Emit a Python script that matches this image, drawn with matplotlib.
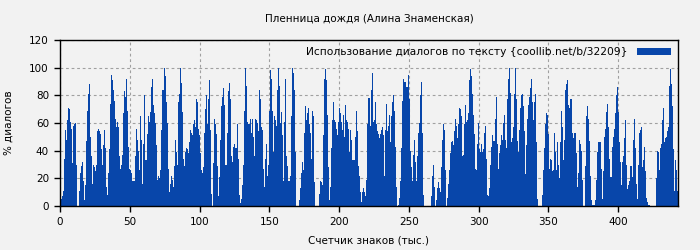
import numpy as np
import matplotlib
matplotlib.use("Agg")
import matplotlib.pyplot as plt

# dialogue share (%) per text chunk left to right
usage_part1 = [10, 5, 7, 11, 34, 55, 48, 62, 71, 70, 61, 56, 31, 58, 59, 60, 30, 0, 0, 11,
               24, 29, 32, 18, 4, 15, 47, 69, 81, 88, 50, 36, 16, 30, 28, 25, 30, 54, 56, 54,
               52, 41, 30, 44, 55, 42, 14, 8, 24, 41, 74, 95, 91, 84, 76, 63, 57, 61, 57, 36,
               27, 30, 37, 67, 83, 79, 92, 69, 43, 27, 26, 24, 18, 18, 18, 36, 56, 48, 40, 26,
               65, 48, 16, 45, 80, 33, 33, 52, 65, 61, 68, 86, 92, 73, 67, 60, 44, 19, 22, 20,
               26]
usage_part2 = [55, 84, 100, 94, 75, 60, 27, 10, 16, 22, 19, 14, 29, 48, 39, 30, 75, 81, 100, 89,
               68, 34, 29, 39, 42, 41, 38, 46, 55, 53, 51, 59, 62, 57, 77, 75, 56, 51, 38, 26,
               24, 28, 53, 70, 80, 59, 77, 91, 55, 9, 0, 31, 63, 59, 52, 29, 7, 21, 48, 72,
               79, 85, 73, 30, 30, 53, 83, 89, 77, 36, 32, 43, 45, 42, 42, 59, 34, 8, 2, 5,
               15, 30, 69, 100, 87, 61, 59, 59, 63, 53, 63, 50, 36, 63, 62, 60, 54, 84, 77, 57,
               55]
usage_part3 = [27, 14, 34, 45, 22, 30, 69, 98, 92, 69, 39, 65, 62, 58, 84, 100, 87, 60, 68, 51,
               18, 61, 92, 36, 29, 18, 18, 22, 65, 100, 96, 84, 39, 0, 0, 0, 4, 13, 24, 32,
               26, 53, 72, 62, 67, 71, 59, 53, 34, 69, 65, 17, 0, 0, 0, 0, 9, 18, 17, 15,
               51, 92, 99, 91, 66, 28, 4, 14, 42, 62, 75, 62, 61, 56, 51, 61, 71, 67, 61, 55,
               66, 50, 73, 62, 61, 56, 39, 55, 48, 33, 33, 33, 50, 69, 54, 29, 22, 10, 3, 10,
               13, 10]
usage_part4 = [7, 19, 59, 78, 58, 84, 96, 61, 62, 75, 59, 54, 52, 49, 52, 55, 57, 51, 22, 55,
               74, 54, 58, 66, 46, 65, 75, 80, 69, 43, 14, 0, 1, 6, 18, 42, 76, 92, 90, 90,
               86, 86, 95, 77, 40, 28, 18, 37, 48, 32, 18, 36, 53, 60, 80, 90, 53, 8, 0, 0,
               0, 0, 0, 0, 0, 7, 22, 30, 14, 0, 4, 13, 17, 13, 10, 28, 48, 59, 55, 26,
               0, 6, 16, 26, 38, 46, 47, 44, 54, 63, 58, 49, 59, 71, 70, 65, 36, 37, 59, 73,
               61, 62]
usage_part5 = [67, 91, 99, 94, 81, 66, 52, 27, 26, 45, 60, 41, 39, 45, 39, 41, 53, 58, 34, 8,
               7, 13, 30, 43, 51, 47, 47, 63, 79, 45, 27, 38, 44, 51, 48, 60, 66, 48, 42, 77,
               92, 100, 82, 46, 49, 57, 81, 100, 77, 47, 39, 55, 71, 80, 81, 72, 54, 23, 44, 63,
               73, 79, 85, 92, 75, 62, 75, 81, 46, 5, 0, 0, 0, 0, 8, 26, 42, 59, 67, 66,
               52, 27, 34, 33, 25, 26, 53, 39, 26, 46, 30, 20, 46, 69, 57, 33, 48, 84, 88, 91,
               73, 71]
usage_part6 = [77, 77, 53, 49, 53, 38, 14, 24, 48, 45, 40, 19, 0, 0, 29, 65, 72, 63, 47, 22,
               4, 1, 1, 1, 4, 19, 39, 46, 46, 46, 27, 5, 25, 50, 56, 68, 74, 57, 34, 21,
               21, 43, 50, 56, 67, 80, 86, 68, 46, 32, 15, 32, 36, 49, 62, 30, 12, 15, 18, 29,
               29, 21, 48, 63, 42, 16, 5, 30, 53, 55, 57, 28, 33, 43, 25, 6, 3, 1, 1, 0,
               0, 0, 0, 0, 0, 20, 40, 39, 26, 42, 45, 62, 71, 46, 49, 50, 54, 57, 87, 99,
               88, 72, 41, 11, 33, 26, 11]

chunk_k = 0.72  # thousand chars per bar
title = 'Пленница дождя (Алина Знаменская)'
legend_label = 'Использование диалогов по тексту {coollib.net/b/32209}'
x_ticks = [0, 50, 100, 150, 200, 250, 300, 350, 400]
y_ticks = [0, 20, 40, 60, 80, 100, 120]

usage = np.array(usage_part1 + usage_part2 + usage_part3 +
                 usage_part4 + usage_part5 + usage_part6, dtype=float)
x = np.arange(len(usage)) * chunk_k

plt.rcParams['font.family'] = ['DejaVu Sans']
plt.rcParams['font.size'] = 7.5

bg = '#f2f2f2'
fig = plt.figure(figsize=(7, 2.5), dpi=100, facecolor=bg)
ax = fig.add_axes([60/700, 1 - 206/250, 618/700, 166/250], facecolor=bg)

ax.bar(x, usage, width=chunk_k, align='edge', color='#0846aa', linewidth=0,
       antialiased=False, label=legend_label, zorder=2)

ax.set_xlim(0, len(usage) * chunk_k)
ax.set_ylim(0, 120)
ax.set_xticks(x_ticks)
ax.set_yticks(y_ticks)
ax.grid(True, color='#a0a0a0', linestyle=(0, (2.5, 2.5)), linewidth=0.8, zorder=0)
ax.set_axisbelow(True)
for s in ax.spines.values():
    s.set_linewidth(1.0)
ax.tick_params(direction='out', length=4, width=1, pad=4)

ax.set_title(title, fontsize=7.5, pad=13)
ax.set_xlabel('Счетчик знаков (тыс.)', labelpad=6)
ax.set_ylabel('% диалогов', labelpad=11)

ax.legend(loc='upper right', frameon=False, prop={'size': 7.7},
          handlelength=3.1, handleheight=0.6,
          borderaxespad=0.5, borderpad=0.2, handletextpad=0.9, markerfirst=False)

fig.savefig('out.png', dpi=100, facecolor=bg)
